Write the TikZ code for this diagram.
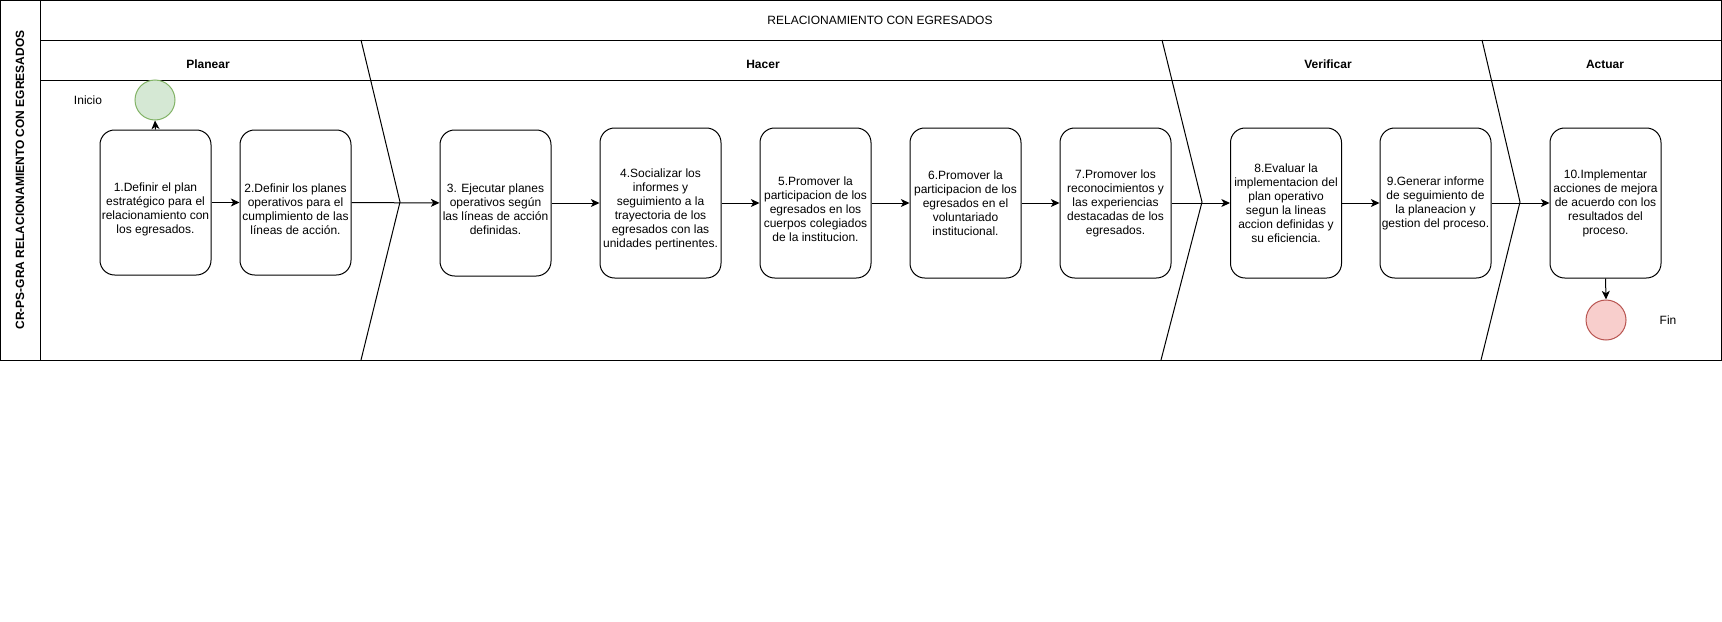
\documentclass[tikz,border=0pt]{standalone}
\usepackage{fontspec}
\setmainfont{Liberation Sans}
\usetikzlibrary{arrows.meta}
\usetikzlibrary{positioning}
\usetikzlibrary{calc}
\definecolor{iniFill}{HTML}{D5E8D4}
\definecolor{iniLine}{HTML}{82B366}
\definecolor{finFill}{HTML}{F8CECC}
\definecolor{finLine}{HTML}{B85450}

\begin{document}
\begin{tikzpicture}[x=0.75pt,y=-0.75pt,line width=0.75pt,
    font=\fontsize{9}{10.5}\selectfont]
    \tikzset{paso/.style={draw,rounded corners=11pt,align=center,inner sep=1pt,
        minimum width=83.25pt,minimum height=112.5pt},
        bajo/.style={label={[align=center,yshift=-5pt]center:{#1}}},
        fase/.style={font=\fontsize{9}{10.5}\selectfont\bfseries},
        flujo/.style={-{Stealth[length=6.5pt,width=6pt,inset=1.8pt]}}}
    \useasboundingbox (0,0) rectangle (1722,621);

    % y of the bands and of the flow line
    \def\ytit{40}
    \def\yfas{80}
    \def\yfin{360}
    \def\yflow{203}

    % frame and bands
    \draw (0.5,0.5) rectangle (1721,\yfin);
    \draw (40,0.5) -- (40,\yfin);
    \draw (40,\ytit) -- (1721,\ytit);
    \draw (40,\yfas) -- (1721,\yfas);
    \node[rotate=90,fase] (lado) at (20,180) {CR-PS-GRA RELACIONAMIENTO CON EGRESADOS};
    \node (tit) at (880,20) {RELACIONAMIENTO CON EGRESADOS};

    % phase borders
    \draw (361,\ytit) -- (400,202) -- (361,\yfin);
    \draw (1162,\ytit) -- (1202,202) -- (1161,\yfin);
    \draw (1482,\ytit) -- (1520,202) -- (1481,\yfin);
    \node[fase] (planear) at (208,64) {Planear};
    \node[fase] (hacer) at (763,64) {Hacer};
    \node[fase] (verif) at (1328,64) {Verificar};
    \node[fase] (actuar) at (1605,64) {Actuar};

    % start and end
    \node[circle,draw=iniLine,fill=iniFill,minimum size=30pt,inner sep=0pt] (ini) at (155,100) {};
    \node (tIni) at (88,100) {Inicio};
    \node[circle,draw=finLine,fill=finFill,minimum size=30pt,inner sep=0pt] (fin) at (1606,320) {};
    \node (tFin) at (1668,320) {Fin};

    % steps
    \node[paso,minimum height=108.75pt,bajo={1.Definir el plan\\estratégico para el\\relacionamiento con\\los egresados.}] (p1) at (155.5,202.5) {};
    \node[paso,minimum height=108.75pt,bajo={2.Definir los planes\\operativos para el\\cumplimiento de las\\líneas de acción.}] (p2) at (295.5,202.5) {};
    \node[paso,minimum height=109.5pt,bajo={3. Ejecutar planes\\operativos según\\las líneas de acción\\definidas.}] (p3) at (495.5,\yflow) {};
    \node[paso,minimum width=90.75pt,bajo={4.Socializar los\\informes y\\seguimiento a la\\trayectoria de los\\egresados con las\\unidades pertinentes.}] (p4) at (660.5,\yflow) {};
    \node[paso,bajo={5.Promover la\\participacion de los\\egresados en los\\cuerpos colegiados\\de la institucion.}] (p5) at (815.5,\yflow) {};
    \node[paso] (p6) at (965.5,\yflow) {6.Promover la\\participacion de los\\egresados en el\\voluntariado\\institucional.};
    \node[paso] (p7) at (1115.5,\yflow) {7.Promover los\\reconocimientos y\\las experiencias\\destacadas de los\\egresados.};
    \node[paso] (p8) at (1286,\yflow) {8.Evaluar la\\implementacion del\\plan operativo\\segun la lineas\\accion definidas y\\su eficiencia.};
    \node[paso] (p9) at (1435.5,\yflow) {9.Generar informe\\de seguimiento de\\la planeacion y\\gestion del proceso.};
    \node[paso] (p10) at (1605.5,\yflow) {10.Implementar\\acciones de mejora\\de acuerdo con los\\resultados del\\proceso.};

    % flow
    \draw[flujo] (p1.north) -- (ini.south);
    \foreach \a/\b in {p1/p2,p2/p3,p3/p4,p4/p5,p5/p6,p6/p7,p7/p8,p8/p9,p9/p10}
        \draw[flujo] (\a) -- (\b);
    \draw[flujo] (p10.south) -- (fin.north);
\end{tikzpicture}
\end{document}
